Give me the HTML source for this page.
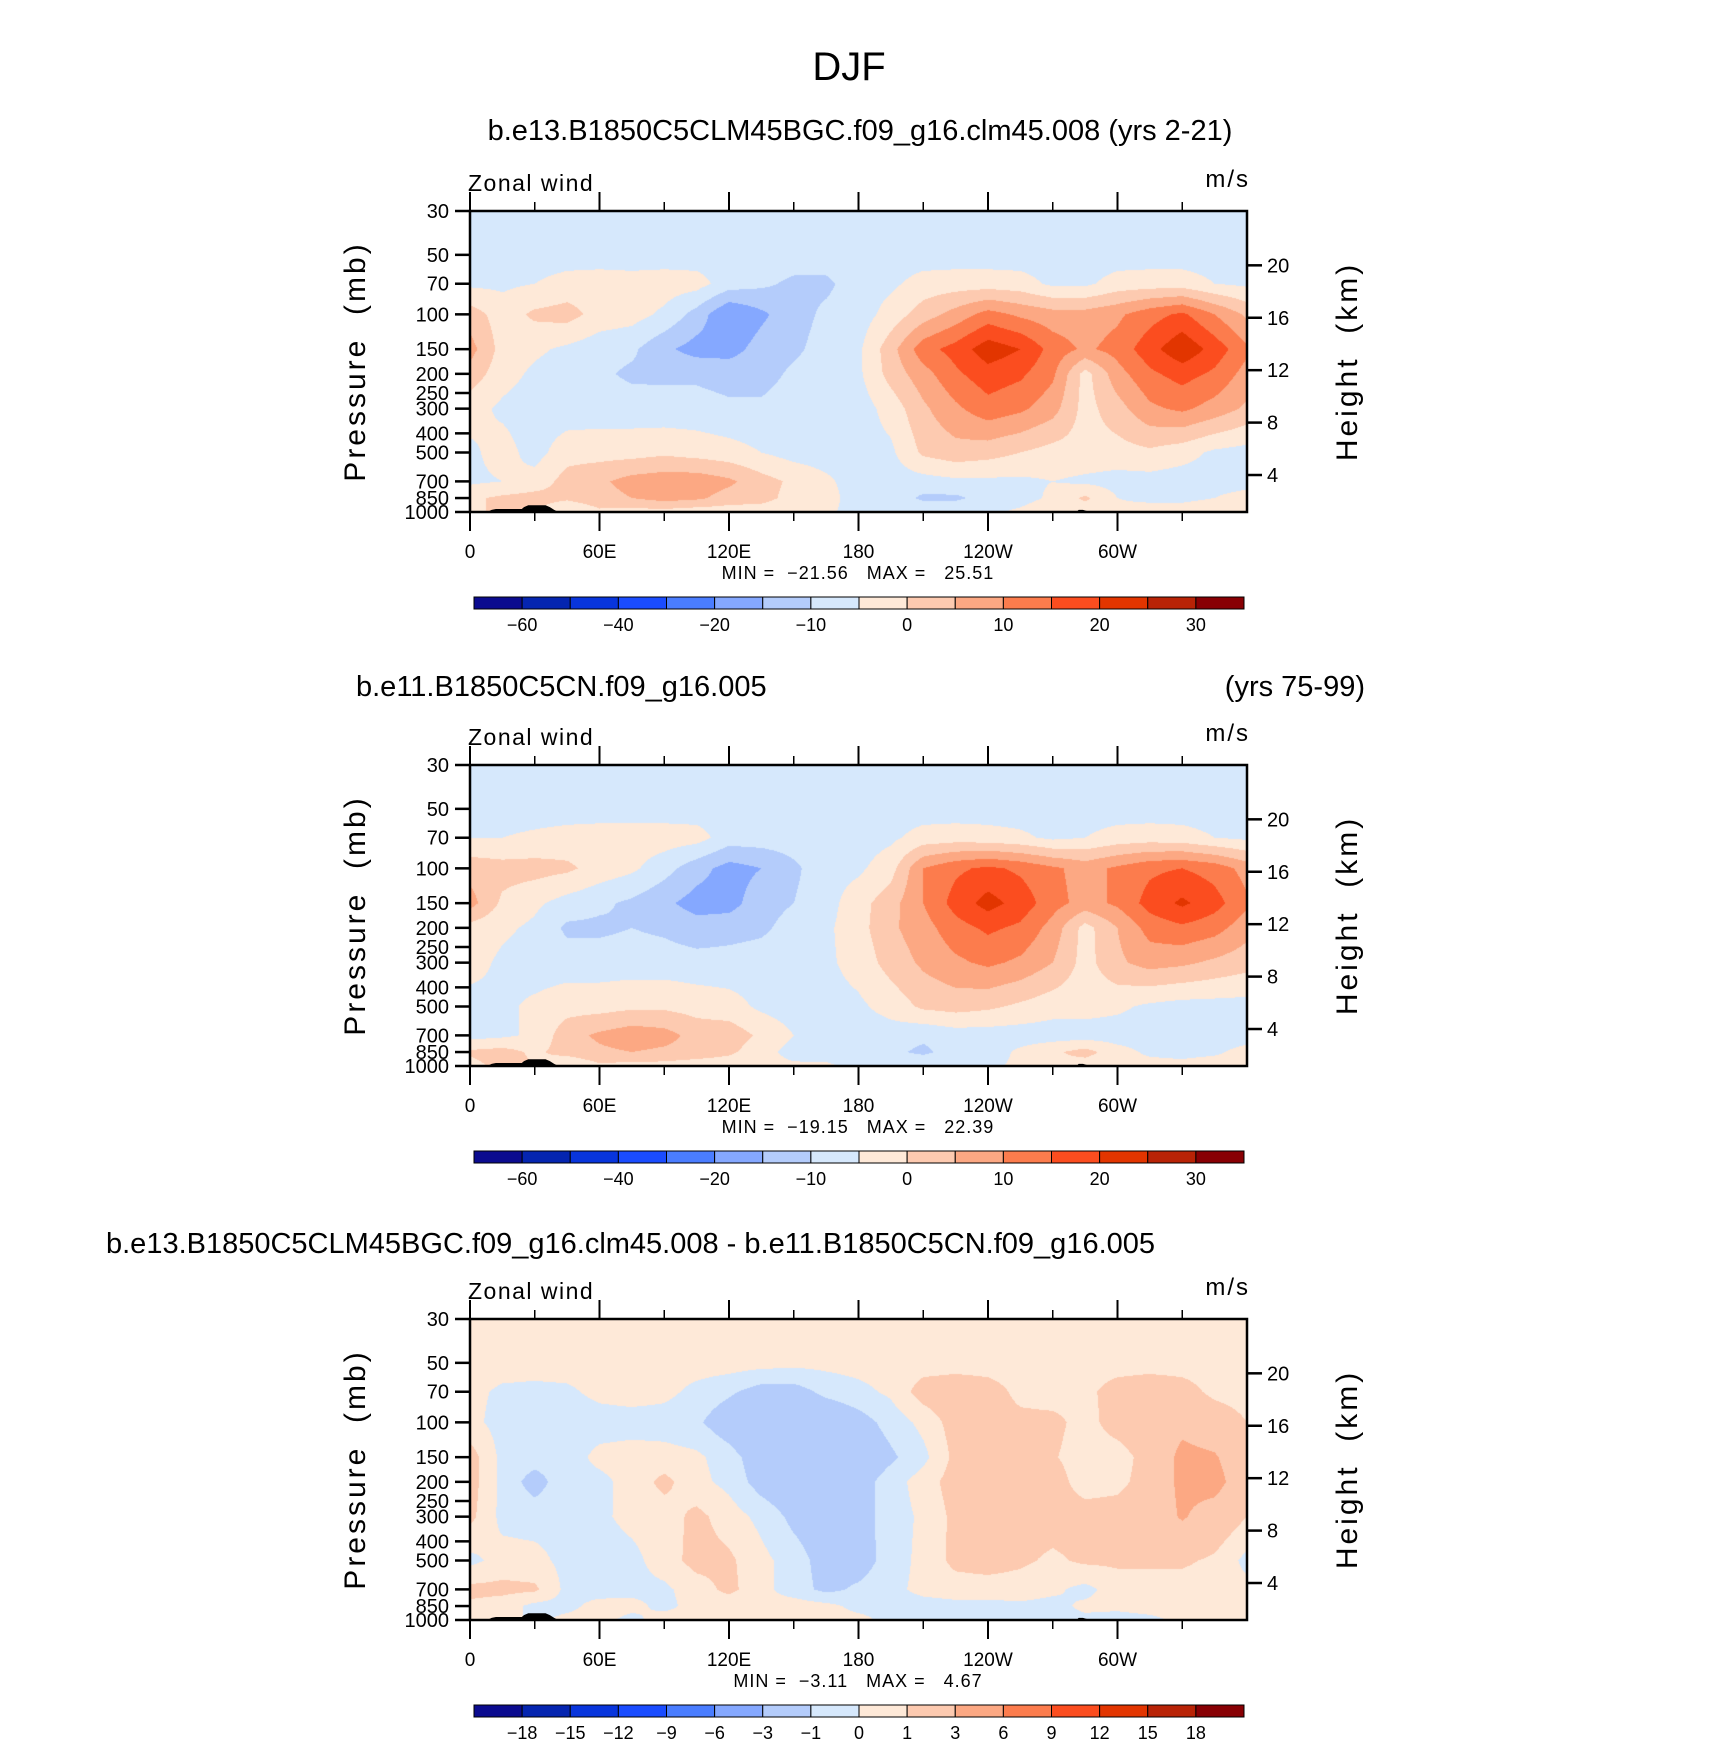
<!DOCTYPE html>
<html><head><meta charset="utf-8">
<style>
html,body{margin:0;padding:0;background:#fff;}
#wrap{position:relative;width:1710px;height:1743px;overflow:hidden;font-family:"Liberation Sans",sans-serif;}
canvas{position:absolute;}
svg{position:absolute;left:0;top:0;}
.pre{white-space:pre;}
</style></head>
<body>
<div id="wrap">
<canvas id="c0"></canvas>
<canvas id="c1"></canvas>
<canvas id="c2"></canvas>
<svg id="svg" width="1710" height="1743"></svg>
</div>
<script>
// ---- data ----
const gridLons = [0,15,30,45,60,75,90,105,120,135,150,165,180,195,210,225,240,255,270,285,300,315,330,345,360];
const gridLevels = [30,50,70,100,150,200,300,500,700,850,1000];
const panel1Values = [
 [-7.5,-7.5,-7.5,-7.5,-7.5,-7.5,-7.5,-7.5,-7.5,-7.5,-7.5,-7.5,-7.5,-7.5,-7.5,-7.5,-7.5,-7.5,-7.5,-7.5,-7.5,-7.5,-7.5,-7.5,-7.5],
 [-7.5,-7.5,-7.5,-7.5,-7.5,-7.5,-7.5,-7.5,-7.5,-7.5,-7.5,-7.5,-7.5,-7.5,-7.5,-7.5,-7.5,-7.5,-7.5,-7.5,-7.5,-7.5,-7.5,-7.5,-7.5],
 [-6,-6,-5,-3,-2.5,-3,-2.5,-3,-7.5,-9,-11,-11,-7.5,-6,-3,-2.5,-2.5,-3,-6,-6,-3,-2.5,-2.5,-5,-6],
 [2.5,-2.5,1,2,-2,-3,-6,-12,-20,-16,-12,-9,-7.5,-3,2.5,7,12,9,7,7,9,13,16,10,4],
 [7,-2,-4,-6,-8,-9,-14,-17,-17,-13,-11,-8,-6,3,13,17,23,20,13,9,12,18,24,18,11],
 [3,-3,-6,-8,-9,-11,-11,-11,-12,-12,-9,-7.5,-6,2,8,14,18,16,11,-2,8,14,17,14,8],
 [-3,-6,-7.5,-8,-7.5,-7.5,-8,-8,-9,-9,-7.5,-7.5,-7.5,-3,4,9,13,11,7,-2,3,9,11,8,4],
 [-6,-3,-7,-2,-2,-2,-1,-2,-3,-5,-7,-7.5,-7,-6,1,3,2,0,-2,-2,-2,-1,-3,-6,-7],
 [-6,-5,-3,2,4,7,8,8,6,2,-1,-4,-7.5,-7.5,-7,-6,-6,-6,-5,-6,-7,-7,-7.5,-7,-7],
 [-1,1,2,1,3,5,7,6,3,2,-2,-3,-7.5,-7,-11,-11,-8,-7,-4,1,-5,-6,-6,-5,-3],
 [-2,2,0,-5,-1,-2,-2,-3,-3,-3,-4,-4,-7,-7,-6,-6,-6,-4,-1,-3,-4,-3,-3,-2,-2]
];
const panel2Values = [
 [-7.5,-7.5,-7.5,-7.5,-7.5,-7.5,-7.5,-7.5,-7.5,-7.5,-7.5,-7.5,-7.5,-7.5,-7.5,-7.5,-7.5,-7.5,-7.5,-7.5,-7.5,-7.5,-7.5,-7.5,-7.5],
 [-7.5,-7.5,-7.5,-7.5,-7.5,-7.5,-7.5,-7.5,-7.5,-7.5,-7.5,-7.5,-7.5,-7.5,-7.5,-7.5,-7.5,-7.5,-7.5,-7.5,-7.5,-7.5,-7.5,-7.5,-7.5],
 [-5,-5,-4,-3,-2.5,-2.5,-2.5,-3,-7.5,-7.5,-7.5,-7.5,-7.5,-6,-3,-2.5,-3,-4,-6,-5,-3,-2.5,-3,-5,-6],
 [3,2,2,1,-2,-4,-8,-13,-17,-15,-11,-7,-6,-2,10,14,16,14,11,8,11,14,15,13,8],
 [7,-1,-4,-7,-9,-11,-14,-17,-17,-12,-10,-7,-2,3,10,17,22,18,12,8,11,17,21,17,11],
 [-2,-4,-6,-11,-11,-10,-11,-13,-12,-11,-8,-6,-2,4,8,13,16,14,8,-2,5,12,14,12,7],
 [-3,-6,-7.5,-7.5,-7.5,-7.5,-7.5,-8,-8,-7.5,-7,-6,-3,2,6,9,11,9,5,-2,4,7,6,4,2],
 [-7,-6,-4,-2,-2,-1,-1,-2,-3,-6,-7.5,-7,-6,-3,1,2,1,-1,-3,-3,-4,-6,-7,-7,-7],
 [-7,-6,-4,3,6,8,7,3,3,-1,-5,-7.5,-7.5,-7.5,-9,-7.5,-7.5,-7.5,-7.5,-7.5,-7.5,-7.5,-7.5,-7.5,-7.5],
 [1,2,-1,2,4,5,4,3,1,-3,-7,-7.5,-7.5,-9,-11,-8,-7.5,-4,-1,2,-3,-6,-7,-6,-3],
 [-2,2,0,-5,-1,-2,-2,-3,-3,-3,-4,-4,-7,-7,-6,-6,-6,-4,-1,-3,-4,-3,-3,-2,-2]
];
const panel3Values = [
 [0.5,0.5,0.5,0.5,0.5,0.5,0.5,0.5,0.5,0.5,0.5,0.5,0.5,0.5,0.5,0.5,0.5,0.5,0.5,0.5,0.5,0.5,0.5,0.5,0.5],
 [0.5,0.5,0.5,0.5,0.5,0.5,0.5,0.5,0.5,0.4,0.3,0.3,0.4,0.5,0.5,0.5,0.5,0.5,0.5,0.5,0.5,0.5,0.5,0.5,0.5],
 [0.3,-0.2,-0.3,-0.2,0.3,0.5,0.3,-0.3,-0.8,-1.5,-1.5,-0.7,-0.3,0.2,1.5,1.8,1.5,0.7,0.5,0.7,1.5,1.8,1.5,0.7,0.5],
 [0.3,-0.4,-0.6,-0.6,-0.5,-0.5,-0.5,-0.8,-1.8,-2.8,-2.8,-2.2,-1.5,-0.6,0.3,1.5,1.5,1.3,1.3,0.6,1.5,2,2.5,1.8,1],
 [1.5,-0.3,-0.5,-0.5,0.3,0.5,0.4,0.2,-0.5,-1.8,-2,-2,-2,-1.2,-0.3,1.3,1.5,1.3,1.1,0.5,0.5,1.5,3.5,3.2,1.5],
 [1.5,-0.3,-1.5,-0.3,-0.3,0.4,1.3,0.3,-0.3,-1.5,-2,-2,-1.5,-0.5,0.5,1.5,1.5,1.5,1.5,0.5,0.7,1.5,3.5,3.8,1.5],
 [1.3,-0.3,-0.4,-0.3,-0.2,0.3,0.5,1.3,0.5,-0.3,-1.3,-1.8,-1.5,-0.5,0.2,1.3,1.5,1.5,1.5,1.5,1.5,1.8,3.2,2,1],
 [-0.3,0.4,0.3,-0.3,-0.5,-0.3,0.5,1.4,1.2,0.3,-0.5,-1.5,-1.6,-0.5,0.3,1.3,1.5,1.2,0.8,1.2,1.2,1.2,1.2,0.8,-0.3],
 [1.3,1.3,1.2,-0.3,-0.5,-0.3,-0.2,0.5,1.3,0.3,-0.5,-1.3,-0.8,-0.3,0.3,0.5,0.5,0.5,0.2,-0.3,0.5,0.5,0.5,0.4,0.3],
 [0.8,0.5,-0.3,-0.3,0.4,0.3,-0.3,0.4,0.3,0.3,0.5,0.3,-0.3,-0.4,-0.4,-0.3,-0.3,-0.2,-0.3,0.2,0.3,0.5,0.5,0.4,0.5],
 [0.5,0.5,-0.3,0.3,0.3,-0.3,0.5,0.3,0.3,0.3,0.3,0.3,0.3,-0.3,-0.3,-0.3,-0.3,-0.3,-0.3,-0.2,-0.5,-0.3,0.3,0.4,0.4]
];
const levels12 = [-60,-50,-40,-30,-20,-15,-10,-5,0,5,10,15,20,25,30];
const levels3 = [-18,-15,-12,-9,-6,-3,-1,0,1,3,6,9,12,15,18];
const labels12 = ["\u221260","\u221240","\u221220","\u221210","0","10","20","30"];
const labels3 = ["\u221218","\u221215","\u221212","\u22129","\u22126","\u22123","\u22121","0","1","3","6","9","12","15","18"];
const topoLons = [8,10,12,24,25,27,35,37,39,41,100,101,176,177,281,282,284,286,309,310];
const topoPs   = [1000,975,965,965,945,925,925,945,975,1000,1000,990,990,1000,1000,975,975,990,990,1000];
const minmax = [["\u221221.56","25.51"],["\u221219.15","22.39"],["\u22123.11","4.67"]];
const titles = ["b.e13.B1850C5CLM45BGC.f09_g16.clm45.008 (yrs 2-21)","b.e11.B1850C5CN.f09_g16.005","b.e13.B1850C5CLM45BGC.f09_g16.clm45.008 - b.e11.B1850C5CN.f09_g16.005"];
const pTicks = [30,50,70,100,150,200,250,300,400,500,700,850,1000];
const zTicks = [4,8,12,16,20];
const lonMajor = [0,60,120,180,240,300];
const lonLabels = ["0","60E","120E","180","120W","60W"];
const lonMinor = [30,90,150,210,270,330];
const palette = ["#0b0b8f","#0525b0","#0835dc","#1a4cff","#4a7dff","#85a8ff","#b4ccfb","#d6e8fc","#fee9d8","#fdcab0","#fca883","#fc7c4d","#fb4d1f","#e23500","#b82306","#880004"];

// ---- geometry ----
const X0=470, W=777, H=301, TOPS=[211,765,1319];
const LP=Math.log(1000/30);
function xS(lon){return X0+lon/360*W;}
function yS(p,oy){return oy+Math.log(p/30)/LP*H;}
function zToP(z){return 1197*Math.exp(-z/6.55);}

const svg=document.getElementById('svg');
const NS="http://www.w3.org/2000/svg";
function mk(tag,attrs,parent){const e=document.createElementNS(NS,tag);for(const k in attrs)e.setAttribute(k,attrs[k]);(parent||svg).appendChild(e);return e;}
function txt(s,x,y,size,anchor,parent,extra){const t=mk('text',Object.assign({x:x,y:y,'font-size':size,'text-anchor':anchor||'middle','font-family':'Liberation Sans, sans-serif',fill:'#000'},extra||{}),parent);t.textContent=s;return t;}

function colorIndex(v,lv){let i=0;while(i<lv.length&&v>=lv[i])i++;return i;}
function hex(c){return [parseInt(c.substr(1,2),16),parseInt(c.substr(3,2),16),parseInt(c.substr(5,2),16)];}
const palRGB=palette.map(hex);
const logLv=gridLevels.map(p=>Math.log(p));

function drawField(k,vals,lv){
  const cv=document.getElementById('c'+k);
  const oy=TOPS[k];
  cv.width=W;cv.height=H;cv.style.left=X0+'px';cv.style.top=oy+'px';
  const ctx=cv.getContext('2d');
  const img=ctx.createImageData(W,H);
  for(let py=0;py<H;py++){
    const lp=Math.log(30)+(py+0.5)/H*LP;
    let j=0;while(j<logLv.length-2&&lp>logLv[j+1])j++;
    let ty=(lp-logLv[j])/(logLv[j+1]-logLv[j]);ty=Math.max(0,Math.min(1,ty));
    for(let px=0;px<W;px++){
      const lon=(px+0.5)/W*360;
      let i=Math.min(gridLons.length-2,Math.floor(lon/15));
      const tx=(lon-gridLons[i])/15;
      const v=(vals[j][i]*(1-tx)+vals[j][i+1]*tx)*(1-ty)+(vals[j+1][i]*(1-tx)+vals[j+1][i+1]*tx)*ty;
      const c=palRGB[colorIndex(v,lv)];
      const o=(py*W+px)*4;img.data[o]=c[0];img.data[o+1]=c[1];img.data[o+2]=c[2];img.data[o+3]=255;
    }
  }
  ctx.putImageData(img,0,0);
}

const djf=txt("DJF",849,80,40,'middle',null,{'font-weight':'normal'});



const panelVals=[panel1Values,panel2Values,panel3Values];
for(let k=0;k<3;k++){
  const oy=TOPS[k];
  const lv = k<2?levels12:levels3;
  drawField(k,panelVals[k],lv);
  const g=mk('g',{});
  
  
  let pts=topoLons.map((l,i)=>xS(l)+','+yS(topoPs[i],oy)).join(' ');
  const topo=mk('polygon',{points:pts,fill:'#000'},g);
  
  
  let t;
  if(k===0){t=txt(titles[0],860,140,29,'middle',g);}
  else if(k===1){t=txt(titles[1],356,696,29,'start',g);const t2=txt("(yrs 75-99)",1365,696,29,'end',g);
    
    }
  else {t=txt(titles[2],106,1253,29,'start',g);}
  
  
  const fr=mk('rect',{x:X0,y:oy,width:W,height:H,fill:'none',stroke:'#000','stroke-width':2.5},g);
  
  
  lonMajor.forEach((l,i)=>{
    mk('line',{x1:xS(l),x2:xS(l),y1:oy,y2:oy-19,stroke:'#000','stroke-width':2},g);
    mk('line',{x1:xS(l),x2:xS(l),y1:oy+H,y2:oy+H+19,stroke:'#000','stroke-width':2},g);
    const lt=txt(lonLabels[i],xS(l),oy+H+46,19,'middle',g);
    
    
  });
  lonMinor.forEach(l=>{
    mk('line',{x1:xS(l),x2:xS(l),y1:oy,y2:oy-9,stroke:'#000','stroke-width':1.5},g);
    mk('line',{x1:xS(l),x2:xS(l),y1:oy+H,y2:oy+H+9,stroke:'#000','stroke-width':1.5},g);
  });
  pTicks.forEach(p=>{
    mk('line',{x1:X0-15,x2:X0,y1:yS(p,oy),y2:yS(p,oy),stroke:'#000','stroke-width':2.5},g);
    const pl=txt(String(p),X0-21,yS(p,oy)+7,20,'end',g);
    
    
  });
  zTicks.forEach(z=>{
    const y=yS(zToP(z),oy);
    mk('line',{x1:X0+W,x2:X0+W+15,y1:y,y2:y,stroke:'#000','stroke-width':2.5},g);
    const zl=txt(String(z),X0+W+20,y+7,20,'start',g);
    
    
  });
  const yt=txt("Pressure  (mb)",0,0,30,'middle',g,{transform:`translate(365,${oy+H/2}) rotate(-90)`,'letter-spacing':'3',class:'pre'});
  
  
  const ht=txt("Height  (km)",0,0,30,'middle',g,{transform:`translate(1357,${oy+H/2}) rotate(-90)`,'letter-spacing':'3',class:'pre'});
  
  
  const zw=txt("Zonal wind",468,oy-20,23,'start',g,{'letter-spacing':'1.5'});
  
  
  const un=txt("m/s",1250,oy-24,24,'end',g,{'letter-spacing':'2'});
  
  
  const mm=txt(`MIN =  ${minmax[k][0]}   MAX =   ${minmax[k][1]}`,858,oy+H+67,18,'middle',g,{class:'pre','letter-spacing':'1'});
  
  
  const cb=mk('g',{},g);
  
  
  const cx0=474,cw=770/16,cy=oy+386;
  palette.forEach((c,i)=>{
    const r=mk('rect',{x:cx0+i*cw,y:cy,width:cw,height:12,fill:c,stroke:'#000','stroke-width':1},cb);
    
    
  });
  const labs = k<2?labels12:labels3;
  labs.forEach((s,i)=>{
    const bi = k<2 ? 1+2*i : 1+i;
    const cl=txt(s,cx0+bi*cw,cy+34,18,'middle',cb);
    
    
  });
}
</script>
</body></html>
